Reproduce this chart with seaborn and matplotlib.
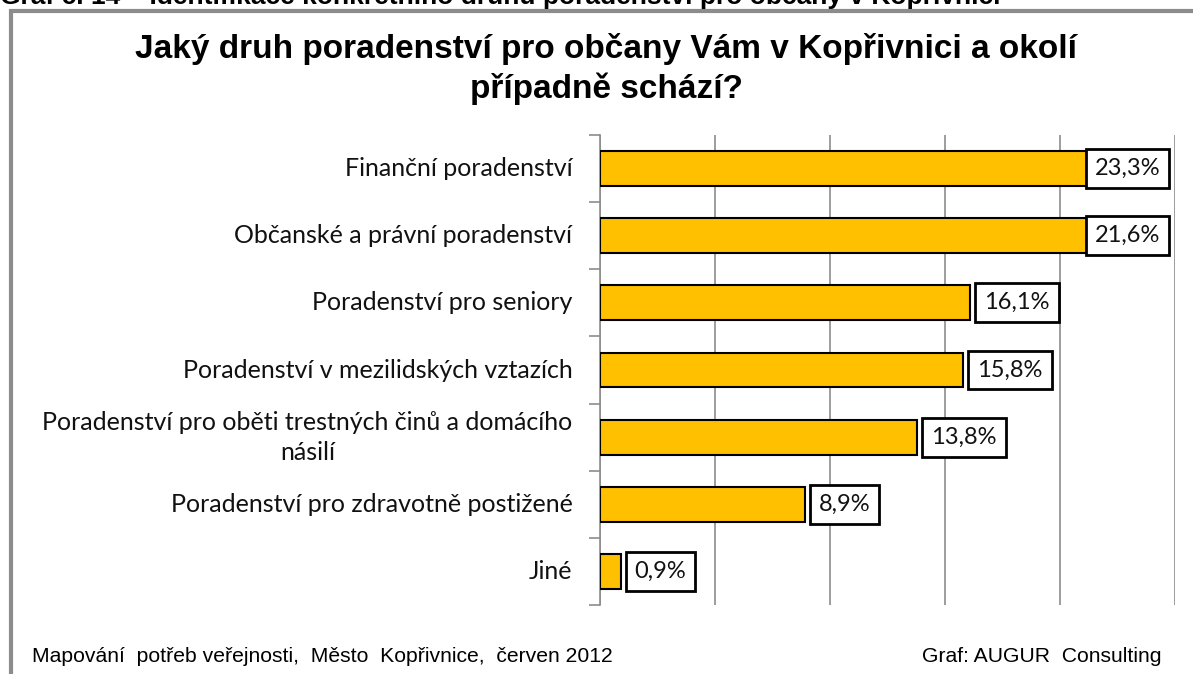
import pandas as pd
import seaborn as sns
import matplotlib.pyplot as plt
from matplotlib.patches import Rectangle

# data
categories = ['Finanční poradenství',
              'Občanské a právní poradenství',
              'Poradenství pro seniory',
              'Poradenství v mezilidských vztazích',
              'Poradenství pro oběti trestných činů a domácího\nnásilí',
              'Poradenství pro zdravotně postižené',
              'Jiné']
values = [23.3, 21.6, 16.1, 15.8, 13.8, 8.9, 0.9]
labels = ['23,3%', '21,6%', '16,1%', '15,8%', '13,8%', '8,9%', '0,9%']

df = pd.DataFrame({'druh': categories, 'podil': values})

sns.set_style('white')
plt.rcParams['font.family'] = ['Lato', 'DejaVu Sans']

fig = plt.figure(figsize=(11.93, 6.74), dpi=100)
ax = fig.add_axes([0.503, 0.102, 0.482, 0.698])

sns.barplot(data=df, y='druh', x='podil', orient='h', color='#FFC000',
            edgecolor='black', linewidth=1.5, width=0.52, saturation=1, ax=ax, zorder=3)

ax.set_xlim(0, 25)
ax.set_ylim(len(categories) - 0.5, -0.5)
ax.set_xticks([0, 5, 10, 15, 20, 25])
ax.set_xticklabels([])
ax.tick_params(axis='x', length=0)
ax.grid(axis='x', color='#8c8c8c', linewidth=1.2, zorder=0)
ax.set_xlabel('')
ax.set_ylabel('')

# ticks between categories, labels centred
ax.set_yticks([i + 0.5 for i in range(-1, len(categories))])
ax.set_yticklabels([])
ax.tick_params(axis='y', length=8, color='#8c8c8c', width=1.2, direction='out', left=True)
for i, c in enumerate(categories):
    ax.text(-1.2, i, c, ha='right', va='center', fontsize=18, color='#111111',
            multialignment='center', linespacing=1.35)

for s in ['top', 'right', 'bottom']:
    ax.spines[s].set_visible(False)
ax.spines['left'].set_color('#8c8c8c')
ax.spines['left'].set_linewidth(1.2)

# value labels
for i, (v, t) in enumerate(zip(values, labels)):
    x = min(v + 0.6, 21.5)
    ax.text(x, i, t, ha='left', va='center', fontsize=17, color='#111111', zorder=5,
            bbox=dict(boxstyle='square,pad=0.38', facecolor='white', edgecolor='black', linewidth=2))

# titles and frame
fig.patches.append(Rectangle((11 / 1193, -0.1), 1.2, 1 - 11 / 674 + 0.1, transform=fig.transFigure,
                             fill=False, edgecolor='#8c8c8c', linewidth=3, zorder=0))
fig.text(0.0, 1.005, 'Graf č. 14 – Identifikace konkrétního druhu poradenství pro občany v Kopřivnici',
         ha='left', va='center', fontsize=19, fontweight='bold', family='Liberation Sans', color='black')
fig.text(0.508, 1 - 69 / 674, 'Jaký druh poradenství pro občany Vám v Kopřivnici a okolí\npřípadně schází?',
         ha='center', va='center', fontsize=24, fontweight='bold', family='Liberation Sans',
         linespacing=1.3, color='black')
fig.text(32 / 1193, 1 - 656 / 674, 'Mapování  potřeb veřejnosti,  Město  Kopřivnice,  červen 2012',
         ha='left', va='center', fontsize=15.2, family='Liberation Sans', color='black')
fig.text(1162 / 1193, 1 - 656 / 674, 'Graf: AUGUR  Consulting',
         ha='right', va='center', fontsize=15.2, family='Liberation Sans', color='black')

plt.savefig('out.png', dpi=100)
